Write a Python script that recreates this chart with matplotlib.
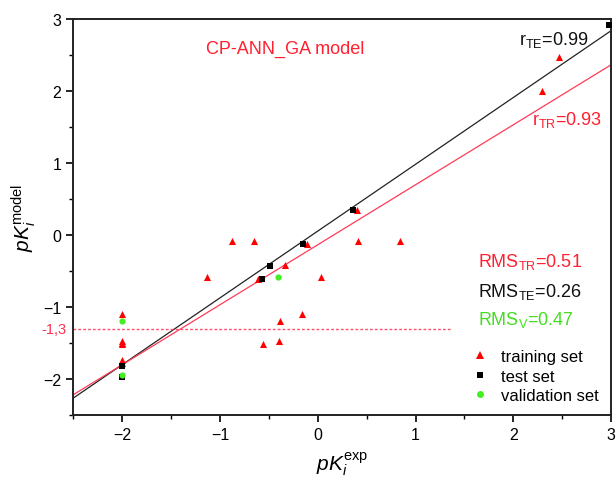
import matplotlib
matplotlib.use("Agg")
import matplotlib.pyplot as plt
import numpy as np
from matplotlib.lines import Line2D
from matplotlib.ticker import MultipleLocator
import matplotlib.transforms as mtransforms

plt.rcParams['font.family'] = ['Liberation Sans', 'DejaVu Sans']
plt.rcParams['mathtext.fontset'] = 'custom'
plt.rcParams['mathtext.rm'] = 'Liberation Sans'
plt.rcParams['mathtext.it'] = 'Liberation Sans:italic'

# training set (red triangles)
train_x = [-2.0, -2.0, -2.0, -2.0, -2.0, -2.0, -1.13, -0.875, -0.65, -0.61, -0.565, -0.40,
           -0.385, -0.335, -0.165, -0.113, 0.035, 0.40, 0.415, 0.84, 2.29, 2.47]
train_y = [-1.10, -1.47, -1.50, -1.73, -1.78, -1.51, -0.575, -0.08, -0.08, -0.61, -1.51, -1.47,
           -1.19, -0.42, -1.10, -0.125, -0.575, 0.35, -0.08, -0.08, 2.0, 2.48]
# test set (black squares)
test_x = [-2.0, -2.0, -0.49, -0.567, -0.148, 0.364, 2.974]
test_y = [-1.815, -1.977, -0.426, -0.611, -0.125, 0.352, 2.917]
# validation set (green circles)
val_x = [-2.0, -2.0, -0.41]
val_y = [-1.19, -1.94, -0.58]

# fitted lines (slope, intercept)
fit_te = (0.928, 0.056)
fit_tr = (0.8335, -0.134)
threshold = -1.3
threshold_xmax = 1.37

fig = plt.figure(figsize=(6.16, 4.81), dpi=100)
ax = fig.add_axes([0.119, 0.135, 0.873, 0.823])

xs = np.array([-2.5, 3.0])
ax.plot(xs, fit_te[0] * xs + fit_te[1], color='#222222', lw=0.9, zorder=2)
ax.plot(xs, fit_tr[0] * xs + fit_tr[1], color='#ff3b55', lw=0.9, zorder=2)
ax.plot([-2.5, threshold_xmax], [threshold, threshold], color='#ff5070', lw=1.0,
        ls=(0, (2, 1.5)), zorder=2)

ax.scatter(train_x, train_y, marker='^', s=26, color='#ff0000', linewidths=0, zorder=3)
ax.scatter(test_x, test_y, marker='s', s=18, color='#000000', linewidths=0, zorder=4)
ax.scatter(val_x, val_y, marker='o', s=20, color='#44ee22', linewidths=0, zorder=5)

ax.set_xlim(-2.5, 3.0)
ax.set_ylim(-2.5, 3.0)
ax.xaxis.set_major_locator(MultipleLocator(1))
ax.xaxis.set_minor_locator(MultipleLocator(0.5))
ax.yaxis.set_major_locator(MultipleLocator(1))
ax.yaxis.set_minor_locator(MultipleLocator(0.5))
ax.tick_params(which='both', direction='out', top=False, right=False, labelsize=11.5)
ax.tick_params(which='major', length=5, width=1.2)
ax.tick_params(which='minor', length=3, width=1.0)
for s in ax.spines.values():
    s.set_linewidth(1.4)
    s.set_color('#222222')

ax.set_xlabel(r'$pK_i^{\rm exp}$', fontsize=15, labelpad=6)
ax.set_ylabel(r'$pK_i^{\rm model}$', fontsize=15, labelpad=4)

trans = mtransforms.blended_transform_factory(ax.transAxes, ax.transData)
ax.text(-0.012, threshold, '-1,3', color='#ff3050', fontsize=10.5, ha='right', va='center',
        transform=trans)

ax.text(-0.334, 2.59, 'CP-ANN_GA model', color='#ff2030', fontsize=13, ha='center', va='center')
ax.text(2.77, 2.72, r'r$_{\rm TE}$=0.99', color='#111111', fontsize=13, ha='right', va='center')
ax.text(2.91, 1.61, r'r$_{\rm TR}$=0.93', color='#ff2030', fontsize=13, ha='right', va='center')
ax.text(1.64, -0.36, r'RMS$_{\rm TR}$=0.51', color='#ff2030', fontsize=13, ha='left', va='center')
ax.text(1.64, -0.77, r'RMS$_{\rm TE}$=0.26', color='#111111', fontsize=13, ha='left', va='center')
ax.text(1.64, -1.16, r'RMS$_{\rm V}$=0.47', color='#44dd22', fontsize=13, ha='left', va='center')

handles = [
    Line2D([], [], marker='^', ls='none', color='#ff0000', markersize=6, markeredgewidth=0),
    Line2D([], [], marker='s', ls='none', color='#000000', markersize=5, markeredgewidth=0),
    Line2D([], [], marker='o', ls='none', color='#44ee22', markersize=5, markeredgewidth=0),
]
ax.legend(handles, ['training set', 'test set', 'validation set'], frameon=False,
          fontsize=12, loc='lower right', bbox_to_anchor=(1.005, -0.008),
          handlelength=1.0, handletextpad=0.76, labelspacing=0.28, borderpad=0.4)

fig.savefig('out.png', dpi=100)
